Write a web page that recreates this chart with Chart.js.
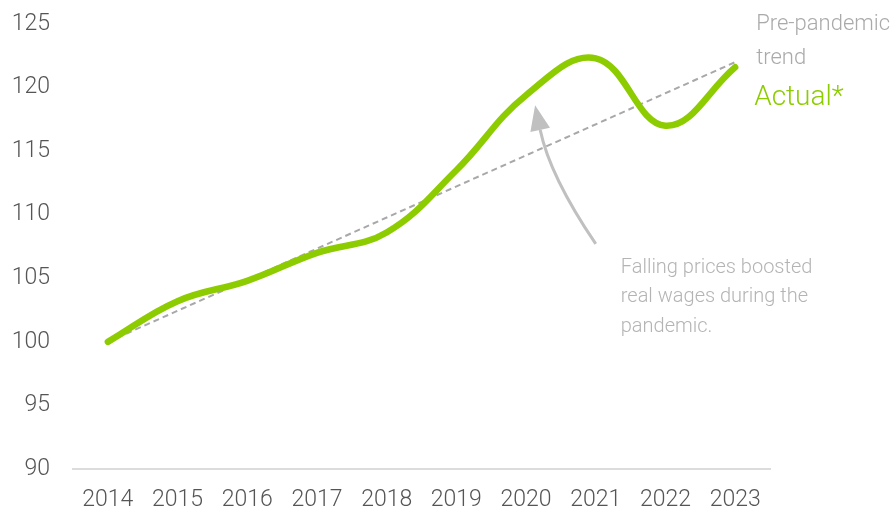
<!DOCTYPE html>
<html>
<head>
<meta charset="utf-8">
<script src="https://cdn.jsdelivr.net/npm/chart.js@4.4.0/dist/chart.umd.min.js"></script>
<style>
  html, body { margin: 0; padding: 0; background: #fff; }
  #wrap { width: 894px; height: 512px; position: relative; }
</style>
</head>
<body>
<div id="wrap"><canvas id="wages"></canvas></div>
<script>
const years = ['2014','2015','2016','2017','2018','2019','2020','2021','2022','2023'];
const actual = [100, 103.2, 104.8, 107.0, 108.6, 113.5, 119.4, 122.3, 117.0, 121.6];
const trend = [100, null, null, null, null, null, null, null, null, 122.0];
const yTicks = [90, 95, 100, 105, 110, 115, 120, 125];

const green = '#8dcc00';
const grey = '#b4b4b4';
const FONT = 'Roboto, "Open Sans", sans-serif';

Chart.defaults.font.family = FONT;
Chart.defaults.font.weight = '300';

// labels, note and arrow drawn on top of the series
const notes = {
  id: 'notes',
  afterDraw(chart) {
    const ctx = chart.ctx;
    const x = chart.scales.x, y = chart.scales.y;
    const px = v => x.getPixelForValue(v);
    const py = v => y.getPixelForValue(v);
    ctx.save();

    // series labels at the right end
    const lx = px(9) + 21;
    ctx.textAlign = 'left';
    ctx.textBaseline = 'middle';
    ctx.fillStyle = '#aaaaaa';
    ctx.font = '300 22px ' + FONT;
    ctx.fillText('Pre-pandemic', lx, py(125));
    ctx.fillText('trend', lx, py(122.3));
    ctx.fillStyle = green;
    ctx.font = '300 28px ' + FONT;
    ctx.fillText('Actual*', lx - 2, py(119.2));

    // note text
    ctx.fillStyle = grey;
    ctx.font = '300 20px ' + FONT;
    ctx.textBaseline = 'alphabetic';
    const nx = px(7) + 25;
    ctx.fillText('Falling prices boosted', nx, py(100) - 69);
    ctx.fillText('real wages during the', nx, py(100) - 39.5);
    ctx.fillText('pandemic.', nx, py(100) - 10);

    // curved arrow pointing at 2020
    const tail = [px(7), py(107.7)];
    const ctrl = [px(6.34), py(113.05)];
    const tip = [px(6.13), py(118.6)];
    let dx = tip[0] - ctrl[0], dy = tip[1] - ctrl[1];
    const len = Math.hypot(dx, dy);
    dx /= len; dy /= len;
    const headLen = 25, headW = 10;
    const base = [tip[0] - dx * headLen, tip[1] - dy * headLen];
    ctx.strokeStyle = '#c0c0c0';
    ctx.fillStyle = '#c0c0c0';
    ctx.lineWidth = 3;
    ctx.beginPath();
    ctx.moveTo(tail[0], tail[1]);
    ctx.quadraticCurveTo(ctrl[0], ctrl[1], base[0], base[1]);
    ctx.stroke();
    ctx.beginPath();
    ctx.moveTo(tip[0], tip[1]);
    ctx.lineTo(base[0] - dy * headW, base[1] + dx * headW);
    ctx.lineTo(base[0] + dy * headW, base[1] - dx * headW);
    ctx.closePath();
    ctx.fill();

    ctx.restore();
  }
};

new Chart(document.getElementById('wages'), {
  type: 'line',
  data: {
    labels: years,
    datasets: [
      {
        label: 'Actual*',
        data: actual,
        borderColor: green,
        borderWidth: 6.5,
        borderCapStyle: 'round',
        tension: 0.4,
        pointRadius: 0
      },
      {
        label: 'Pre-pandemic trend',
        data: trend,
        spanGaps: true,
        borderColor: '#a8a8a8',
        borderWidth: 2,
        borderDash: [6, 4],
        pointRadius: 0
      }
    ]
  },
  options: {
    responsive: true,
    maintainAspectRatio: false,
    animation: false,
    layout: { padding: { top: 24, right: 124, left: 0, bottom: 0 } },
    plugins: { legend: { display: false }, tooltip: { enabled: false } },
    scales: {
      x: {
        offset: true,
        grid: { display: false, drawTicks: false },
        border: { color: '#dcdcdc', width: 2 },
        ticks: { color: '#555555', font: { size: 23 }, padding: 17 },
        afterFit: axis => { axis.height = 43; }
      },
      y: {
        min: 90,
        max: 125,
        afterBuildTicks: axis => { axis.ticks = yTicks.map(v => ({ value: v })); },
        grid: { display: false, drawTicks: false },
        border: { display: false },
        ticks: { color: '#555555', font: { size: 23 }, padding: 23 },
        afterFit: axis => {
          axis.width = 73;
          axis.paddingTop = 0;
          axis.paddingBottom = 0;
        }
      }
    }
  },
  plugins: [notes]
});
</script>
</body>
</html>
